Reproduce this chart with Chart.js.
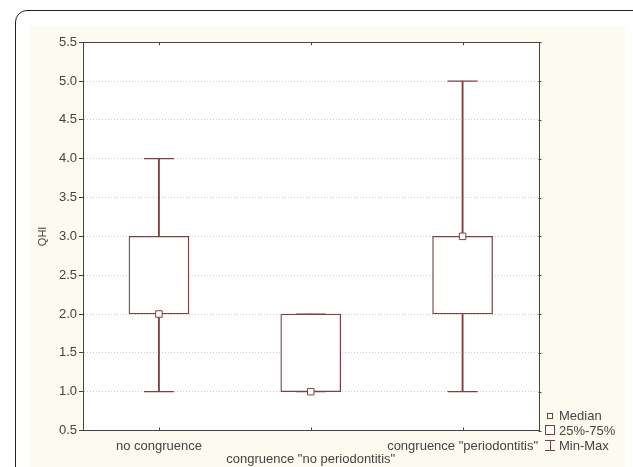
<!DOCTYPE html>
<html>
<head>
<meta charset="utf-8">
<script src="https://cdn.jsdelivr.net/npm/chart.js@4.4.0/dist/chart.umd.min.js"></script>
<style>
  html, body { margin: 0; padding: 0; background: #ffffff; width: 633px; height: 467px; overflow: hidden; position: relative; font-family: "Liberation Sans", Arial, sans-serif; }
  #frame { position: absolute; left: 15px; top: 10px; width: 640px; height: 520px; border: 1px solid #222; border-radius: 12px; box-sizing: border-box; }
  #panel { position: absolute; left: 30px; top: 26px; width: 595px; height: 441px; background: #fdfaf0; }
  #wrap { position: absolute; left: 30px; top: 26px; width: 595px; height: 441px; }
  #legend { position: absolute; left: 544px; top: 408px; font-size: 13px; color: #444; line-height: 15px; }
  #legend .row { position: relative; height: 15px; padding-left: 15px; white-space: nowrap; }
  #legend .ico { position: absolute; box-sizing: border-box; border: 1px solid #7d4040; }
</style>
</head>
<body>
<div id="frame"></div>
<div id="panel"></div>
<div id="wrap"><canvas id="c" width="595" height="441"></canvas></div>
<div id="legend">
  <div class="row"><span class="ico" style="left:3px;top:5px;width:6px;height:6px;background:#fff;"></span>Median</div>
  <div class="row"><span class="ico" style="left:1px;top:2px;width:10px;height:10px;background:#fff;"></span>25%-75%</div>
  <div class="row"><span style="position:absolute;left:1px;top:2px;width:10px;height:1px;background:#7d4040;"></span><span style="position:absolute;left:5.5px;top:2px;width:1px;height:11px;background:#7d4040;"></span><span style="position:absolute;left:1px;top:12px;width:10px;height:1px;background:#7d4040;"></span>Min-Max</div>
</div>
<script>
const categories = ['no congruence', 'congruence "no periodontitis"', 'congruence "periodontitis"'];
const minValues = [1, 1, 1];
const q1Values = [2, 1, 2];
const medianValues = [2, 1, 3];
const q3Values = [3, 2, 3];
const maxValues = [4, 2, 5];
const yMin = 0.5, yMax = 5.5, yStep = 0.5;
const yTitle = 'QHI';

const col = '#7d4040';
const fontFam = '"Liberation Sans", Arial, sans-serif';

const framePlugin = {
  id: 'framePlugin',
  beforeDraw(chart) {
    const a = chart.chartArea, ctx = chart.ctx;
    ctx.save();
    ctx.fillStyle = '#ffffff';
    ctx.fillRect(a.left, a.top, a.right - a.left, a.bottom - a.top);
    ctx.restore();
  },
  afterDraw(chart) {
    const a = chart.chartArea, ctx = chart.ctx;
    const xs = chart.scales.x, ys = chart.scales.y;
    ctx.save();
    ctx.strokeStyle = '#444';
    ctx.lineWidth = 1;
    ctx.strokeRect(Math.round(a.left) + 0.5, Math.round(a.top) + 0.5, Math.round(a.right - a.left), Math.round(a.bottom - a.top));
    ctx.beginPath();
    categories.forEach((c, i) => {
      const x = Math.round(xs.getPixelForValue(i)) + 0.5;
      ctx.moveTo(x, a.top); ctx.lineTo(x, a.top + 3);
      ctx.moveTo(x, a.bottom); ctx.lineTo(x, a.bottom - 3);
    });
    ys.ticks.forEach(t => {
      const y = Math.round(ys.getPixelForValue(t.value)) + 0.5;
      ctx.moveTo(a.right, y); ctx.lineTo(a.right + 3, y);
    });
    ctx.stroke();
    ctx.restore();
  }
};

new Chart(document.getElementById('c'), {
  type: 'bar',
  data: {
    labels: categories,
    datasets: [
      {
        label: 'whisker',
        data: categories.map((c, i) => [minValues[i], maxValues[i]]),
        backgroundColor: col,
        borderWidth: 0,
        barThickness: 1.2,
        grouped: false,
        order: 3
      },
      {
        label: '25%-75%',
        data: categories.map((c, i) => [q1Values[i], q3Values[i]]),
        backgroundColor: '#ffffff',
        borderColor: col,
        borderWidth: 1.3,
        borderSkipped: false,
        barThickness: 60,
        grouped: false,
        order: 2
      },
      {
        type: 'line',
        label: 'max',
        data: maxValues,
        showLine: false,
        pointStyle: 'line',
        pointRadius: 15,
        borderColor: col,
        borderWidth: 1.2,
        order: 1
      },
      {
        type: 'line',
        label: 'min',
        data: minValues,
        showLine: false,
        pointStyle: 'line',
        pointRadius: 15,
        borderColor: col,
        borderWidth: 1.2,
        order: 1
      },
      {
        type: 'line',
        label: 'Median',
        data: medianValues,
        showLine: false,
        pointStyle: 'rect',
        pointRadius: 4.6,
        backgroundColor: '#ffffff',
        borderColor: col,
        borderWidth: 1,
        order: 0
      }
    ]
  },
  options: {
    responsive: false,
    animation: false,
    events: [],
    layout: { padding: { top: 14, right: 86.5, left: 0, bottom: 0 } },
    plugins: { legend: { display: false }, tooltip: { enabled: false } },
    scales: {
      x: {
        grid: { display: false },
        border: { display: false },
        ticks: {
          autoSkip: false, maxRotation: 0, minRotation: 0, padding: 1,
          color: '#444', font: { family: fontFam, size: 13, lineHeight: 1.0 },
          callback: (v, i) => i % 2 === 1 ? ['', categories[i]] : categories[i]
        },
        afterFit: s => { s.height = 36.5; }
      },
      y: {
        min: yMin, max: yMax,
        grid: { color: '#cfcfcf', tickColor: '#444', tickLength: 4, tickBorderDash: [] },
        border: { display: true, color: '#444', dash: [1, 2] },
        ticks: {
          stepSize: yStep, padding: 2, color: '#444',
          font: { family: fontFam, size: 13 },
          callback: v => Number(v).toFixed(1)
        },
        title: { display: true, text: yTitle, color: '#444', padding: { top: 6, bottom: 0 }, font: { family: fontFam, size: 11 } },
        afterFit: s => { s.width = 53; }
      }
    }
  },
  plugins: [framePlugin]
});
</script>
</body>
</html>
